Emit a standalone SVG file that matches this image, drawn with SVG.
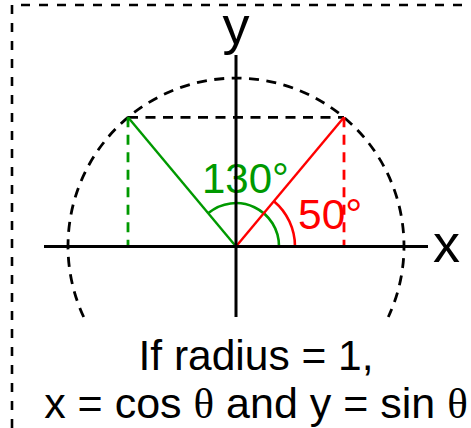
<svg xmlns="http://www.w3.org/2000/svg" width="471" height="428" viewBox="0 0 471 428">
<style>
.ax{stroke:#000;stroke-width:3;fill:none}
.dash{stroke-width:2.8;fill:none;stroke-dasharray:10 7.5}
.t{font-family:"Liberation Sans",Arial,sans-serif}
.g{fill:#009900}
.r{fill:#ff0000}
</style>
<rect width="471" height="428" fill="#fff"/>
<g id="frame">
<path d="M12 428 V5 H471" fill="none" stroke="#000" stroke-width="2.6" stroke-dasharray="9 9"/>
</g>
<g id="connectors">
<path id="circle" class="dash" stroke="#000" d="M83.7 317 A168 168 0 1 1 388.3 317"/>
<line class="dash" stroke="#000" x1="128" y1="117.3" x2="344" y2="117.3"/>
<line class="dash" stroke="#009900" x1="128" y1="117.3" x2="128" y2="246"/>
<line class="dash" stroke="#ff0000" x1="344" y1="117.3" x2="344" y2="246"/>
<line stroke="#009900" stroke-width="2.4" x1="236" y1="246.5" x2="128" y2="117.3"/>
<path stroke="#009900" stroke-width="2.6" fill="none" d="M279 246.5 A43 43 0 0 0 208.4 213.1"/>
<line stroke="#ff0000" stroke-width="2.4" x1="236" y1="246.5" x2="344" y2="117.3"/>
<path stroke="#ff0000" stroke-width="2.6" fill="none" d="M295 246.5 A59 59 0 0 0 273.9 201.3"/>
</g>
<g id="label130"><text class="t g" x="202" y="193" font-size="42">130°</text></g>
<g id="label50"><text class="t r" x="298" y="229" font-size="42.5">50°</text></g>
<g id="axes">
<line class="ax" x1="44" y1="246.5" x2="428" y2="246.5"/>
<line class="ax" x1="236" y1="55" x2="236" y2="317"/>
</g>
<g id="ylabel"><text class="t" x="236" y="44" font-size="54" text-anchor="middle">y</text></g>
<g id="xlabel"><text class="t" x="433" y="262" font-size="54">x</text></g>
<g id="caption">
<text class="t" x="256" y="370" font-size="42.5" text-anchor="middle">If radius = 1,</text>
<text class="t" x="256" y="418" font-size="43" text-anchor="middle">x = cos <tspan font-family="'Liberation Serif','Times New Roman',serif">θ</tspan> and y = sin <tspan font-family="'Liberation Serif','Times New Roman',serif">θ</tspan></text>
</g>
</svg>
